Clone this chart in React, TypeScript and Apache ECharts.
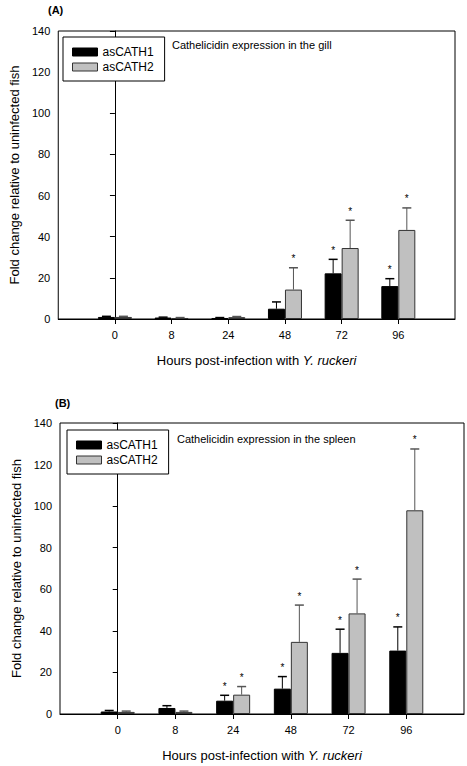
import React, { useEffect, useRef } from "react";
import * as echarts from "echarts";

const categories = ["0", "8", "24", "48", "72", "96"];
const yTicks = [0, 20, 40, 60, 80, 100, 120, 140];

// (A) gill
const gillCath1 = [1.0, 0.7, 0.5, 5.0, 22.2, 16.0];
const gillCath1Err = [0.3, 0.2, 0.2, 3.3, 6.8, 3.6];
const gillCath1Sig = [0, 0, 0, 0, 1, 1];
const gillCath2 = [1.0, 0.5, 0.9, 14.3, 34.5, 43.3];
const gillCath2Err = [0.3, 0.2, 0.3, 10.6, 13.5, 10.7];
const gillCath2Sig = [0, 0, 0, 1, 1, 1];

// (B) spleen
const spleenCath1 = [1.2, 2.9, 6.4, 12.2, 29.4, 30.5];
const spleenCath1Err = [0.5, 1.1, 2.6, 5.8, 11.4, 11.4];
const spleenCath1Sig = [0, 0, 1, 1, 1, 1];
const spleenCath2 = [1.0, 1.0, 9.3, 34.7, 48.4, 98.0];
const spleenCath2Err = [0.4, 0.4, 3.9, 17.7, 16.5, 29.5];
const spleenCath2Sig = [0, 0, 1, 1, 1, 1];

const FONT = "Liberation Sans, Arial, Helvetica, sans-serif";
const BAR_W = 17;

function xAxisCfg(gridIndex: number) {
  const idx = categories.map((_, i) => i);
  return {
    type: "value",
    gridIndex,
    min: -1,
    max: 6,
    interval: 1,
    axisLine: { show: true, onZero: false, lineStyle: { color: "#000", width: 1 } },
    axisTick: { show: true, customValues: idx, length: 5, lineStyle: { color: "#000" } },
    axisLabel: {
      customValues: idx,
      formatter: (v: number) => categories[v] ?? "",
      fontSize: 11,
      color: "#000",
      fontFamily: FONT,
      margin: 10,
    },
    splitLine: { show: false },
    name: "Hours post-infection with {i|Y. ruckeri}",
    nameLocation: "middle",
    nameGap: 35,
    nameTextStyle: {
      fontSize: 13,
      color: "#000",
      fontFamily: FONT,
      rich: { i: { fontStyle: "italic", fontSize: 13, color: "#000", fontFamily: FONT } },
    },
  };
}

function yAxisCfg(gridIndex: number) {
  return {
    type: "value",
    gridIndex,
    min: yTicks[0],
    max: yTicks[yTicks.length - 1],
    interval: yTicks[1] - yTicks[0],
    axisLine: { show: true, lineStyle: { color: "#000", width: 1 } },
    axisTick: { show: true, length: 5, lineStyle: { color: "#000" } },
    axisLabel: { fontSize: 11, color: "#000", fontFamily: FONT, margin: 8 },
    splitLine: { show: false },
    name: "Fold change relative to uninfected fish",
    nameLocation: "middle",
    nameGap: 31,
    nameTextStyle: { fontSize: 13, color: "#000", fontFamily: FONT },
  };
}

function barSeries(name: string, vals: number[], axisIndex: number, fill: string, border: string) {
  return {
    type: "bar",
    name,
    xAxisIndex: axisIndex,
    yAxisIndex: axisIndex,
    barWidth: BAR_W,
    barGap: "0%",
    data: vals.map((v, i) => [i, v]),
    itemStyle: { color: fill, borderColor: border, borderWidth: 1 },
    z: 2,
  };
}

function errSeries(vals: number[], errs: number[], sig: number[], axisIndex: number, side: number, color: string) {
  return {
    type: "custom",
    xAxisIndex: axisIndex,
    yAxisIndex: axisIndex,
    z: 5,
    silent: true,
    itemStyle: { color: "#000" },
    data: vals.map((v, i) => [i, v, errs[i], sig[i]]),
    encode: { x: 0, y: 1 },
    renderItem: (params: any, api: any) => {
      const x = api.value(0);
      const v = api.value(1);
      const e = api.value(2);
      const s = api.value(3);
      const base = api.coord([x, v]);
      const top = api.coord([x, v + e]);
      const cx = base[0] + side * (BAR_W / 2);
      const children: any[] = [
        {
          type: "line",
          shape: { x1: cx, y1: base[1], x2: cx, y2: top[1] },
          style: { stroke: color, lineWidth: 1 },
        },
        {
          type: "line",
          shape: { x1: cx - 4.5, y1: top[1], x2: cx + 4.5, y2: top[1] },
          style: { stroke: color, lineWidth: 1.5 },
        },
      ];
      if (s) {
        children.push({
          type: "text",
          x: cx,
          y: top[1] - 4,
          style: {
            text: "*",
            fontSize: 10,
            fontFamily: FONT,
            fill: "#000",
            stroke: "none",
            align: "center",
            verticalAlign: "bottom",
          },
        });
      }
      return { type: "group", children };
    },
  };
}

function legendCfg(left: number, top: number) {
  return {
    data: ["asCATH1", "asCATH2"],
    left,
    top,
    orient: "vertical",
    icon: "rect",
    itemWidth: 25,
    itemHeight: 8,
    itemGap: 1,
    itemStyle: { borderWidth: 1 },
    padding: [8, 11, 7, 9],
    borderColor: "#000",
    borderWidth: 1,
    backgroundColor: "#fff",
    selectedMode: false,
    textStyle: { fontSize: 12, color: "#000", fontFamily: FONT, lineHeight: 14 },
  };
}

export default function App() {
  const ref = useRef<HTMLDivElement>(null);
  useEffect(() => {
    document.body.style.margin = "0";
    if (!ref.current) return;
    const chart = echarts.init(ref.current, null, { renderer: "svg" });
    chart.setOption({
      animation: false,
      backgroundColor: "#fff",
      grid: [
        { left: 51, top: 31, width: 404, height: 288, show: true, borderColor: "#000", borderWidth: 1, backgroundColor: "transparent" },
        { left: 60, top: 423, width: 404, height: 291, show: true, borderColor: "#000", borderWidth: 1, backgroundColor: "transparent" },
      ],
      xAxis: [xAxisCfg(0), xAxisCfg(1)],
      yAxis: [yAxisCfg(0), yAxisCfg(1)],
      legend: [legendCfg(63, 37), legendCfg(67, 430)],
      graphic: [
        { type: "text", left: 48, top: 4, style: { text: "(A)", fontSize: 11, fontWeight: "bold", fontFamily: FONT, fill: "#000" } },
        { type: "text", left: 55, top: 397, style: { text: "(B)", fontSize: 11, fontWeight: "bold", fontFamily: FONT, fill: "#000" } },
        { type: "text", left: 172, top: 39, style: { text: "Cathelicidin expression in the gill", fontSize: 11, fontFamily: FONT, fill: "#000" } },
        { type: "text", left: 177, top: 433, style: { text: "Cathelicidin expression in the spleen", fontSize: 11, fontFamily: FONT, fill: "#000" } },
      ],
      series: [
        barSeries("asCATH1", gillCath1, 0, "#000", "#000"),
        barSeries("asCATH2", gillCath2, 0, "#c0c0c0", "#333"),
        errSeries(gillCath1, gillCath1Err, gillCath1Sig, 0, -1, "#000"),
        errSeries(gillCath2, gillCath2Err, gillCath2Sig, 0, 1, "#555"),
        barSeries("asCATH1", spleenCath1, 1, "#000", "#000"),
        barSeries("asCATH2", spleenCath2, 1, "#c0c0c0", "#333"),
        errSeries(spleenCath1, spleenCath1Err, spleenCath1Sig, 1, -1, "#000"),
        errSeries(spleenCath2, spleenCath2Err, spleenCath2Sig, 1, 1, "#555"),
      ],
    });
    return () => chart.dispose();
  }, []);
  return <div ref={ref} style={{ width: 467, height: 766 }} />;
}
